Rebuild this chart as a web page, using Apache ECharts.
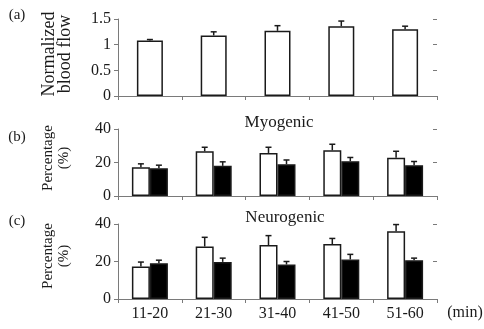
<!DOCTYPE html>
<html>
<head>
<meta charset="utf-8">
<script src="https://cdn.jsdelivr.net/npm/echarts@6/dist/echarts.min.js"></script>
<style>
  html, body { margin: 0; padding: 0; background: #fff; }
  #main { width: 484px; height: 329px; }
</style>
</head>
<body>
<div id="main"></div>
<script>
// time windows
var categories = ['11-20', '21-30', '31-40', '41-50', '51-60'];

// (a) normalized blood flow
var flowMean = [1.08, 1.18, 1.27, 1.36, 1.30];
var flowErr = [0.02, 0.07, 0.10, 0.10, 0.06];

// (b) myogenic, open / filled bars
var myoOpen = [17.2, 26.7, 25.7, 27.3, 22.8];
var myoOpenErr = [2.0, 2.4, 3.4, 3.6, 3.9];
var myoFilled = [16.6, 18.0, 19.0, 20.8, 18.4];
var myoFilledErr = [1.8, 2.4, 2.5, 2.2, 2.2];

// (c) neurogenic, open / filled bars
var neuOpen = [17.3, 28.0, 28.8, 29.3, 36.1];
var neuOpenErr = [2.4, 4.9, 5.0, 3.0, 3.6];
var neuFilled = [19.1, 19.8, 18.4, 21.1, 20.7];
var neuFilledErr = [1.6, 2.0, 1.6, 2.7, 1.1];

var FONT = "'Liberation Serif', 'Times New Roman', 'DejaVu Serif', serif";
var INK = '#1a1a1a';
var AXIS = '#7a7a7a';

var chart = echarts.init(document.getElementById('main'), null, { renderer: 'canvas' });

// upper error bar with a small cap, shifted sideways by offset px
function errSeries(idx, mean, err, offset) {
  return {
    type: 'custom',
    xAxisIndex: idx,
    yAxisIndex: idx,
    z: 5,
    silent: true,
    data: mean.map(function (m, i) { return [i, m, err[i]]; }),
    renderItem: function (params, api) {
      var top = api.coord([api.value(0), api.value(1)]);
      var end = api.coord([api.value(0), api.value(1) + api.value(2)]);
      var x = top[0] + offset;
      var st = { stroke: INK, lineWidth: 1.5 };
      return {
        type: 'group',
        children: [
          { type: 'line', shape: { x1: x, y1: top[1], x2: x, y2: end[1] }, style: st },
          { type: 'line', shape: { x1: x - 3, y1: end[1], x2: x + 3, y2: end[1] }, style: st }
        ]
      };
    }
  };
}

function barSeries(idx, values, fill, width) {
  return {
    type: 'bar',
    xAxisIndex: idx,
    yAxisIndex: idx,
    data: values,
    barWidth: width,
    barGap: '0%',
    itemStyle: { color: fill, borderColor: INK, borderWidth: 1.5 }
  };
}

var grids = [
  { left: 118, width: 319, top: 19, height: 77 },
  { left: 118, width: 319, top: 129, height: 67 },
  { left: 118, width: 319, top: 224, height: 75 }
];
var yRanges = [
  { min: 0, max: 1.5, interval: 0.5 },
  { min: 0, max: 40, interval: 20 },
  { min: 0, max: 40, interval: 20 }
];

var xAxes = [];
var yAxes = [];
// main axes (ticks outward)
grids.forEach(function (g, i) {
  xAxes.push({
    type: 'category', gridIndex: i, data: categories,
    axisLine: { lineStyle: { color: AXIS, width: 1 } },
    axisTick: { show: true, length: 4, lineStyle: { color: AXIS } },
    axisLabel: { show: i === 2, fontFamily: FONT, fontSize: 16, color: INK, margin: 7 }
  });
  yAxes.push({
    type: 'value', gridIndex: i,
    min: yRanges[i].min, max: yRanges[i].max, interval: yRanges[i].interval,
    splitLine: { show: false },
    axisLine: { show: true, lineStyle: { color: AXIS, width: 1 } },
    axisTick: { show: true, length: 4, lineStyle: { color: AXIS } },
    axisLabel: { fontFamily: FONT, fontSize: 16, color: INK, margin: 7 }
  });
});
// twin axes so the ticks cross the axis line
grids.forEach(function (g, i) {
  xAxes.push({
    type: 'category', gridIndex: i, data: categories,
    axisLine: { show: false },
    axisTick: { show: true, inside: true, length: 4, lineStyle: { color: AXIS } },
    axisLabel: { show: false }
  });
  yAxes.push({
    type: 'value', gridIndex: i,
    min: yRanges[i].min, max: yRanges[i].max, interval: yRanges[i].interval,
    splitLine: { show: false },
    axisLine: { show: false },
    axisTick: { show: true, inside: true, length: 4, lineStyle: { color: AXIS } },
    axisLabel: { show: false }
  });
});

function txt(x, y, text, size, rot, lh) {
  return {
    type: 'text', x: x, y: y, rotation: rot || 0,
    style: {
      text: text, fill: INK, fontFamily: FONT, fontSize: size,
      align: 'center', verticalAlign: 'middle', lineHeight: lh || size
    }
  };
}

var option = {
  animation: false,
  backgroundColor: '#fff',
  textStyle: { fontFamily: FONT },
  grid: grids,
  xAxis: xAxes,
  yAxis: yAxes,
  graphic: [
    txt(17, 15, '(a)', 15),
    txt(17, 137, '(b)', 15),
    txt(17, 221, '(c)', 15),
    txt(57, 54, 'Normalized\nblood flow', 18, Math.PI / 2, 16),
    txt(56, 158, 'Percentage\n(%)', 15, Math.PI / 2, 16),
    txt(56, 256, 'Percentage\n(%)', 15, Math.PI / 2, 16),
    txt(279, 123, 'Myogenic', 17),
    txt(285, 218, 'Neurogenic', 17),
    txt(465, 313, '(min)', 16)
  ],
  series: [
    barSeries(0, flowMean, '#fff', 26),
    errSeries(0, flowMean, flowErr, 0),
    barSeries(1, myoOpen, '#fff', 18),
    barSeries(1, myoFilled, '#000', 18),
    errSeries(1, myoOpen, myoOpenErr, -9),
    errSeries(1, myoFilled, myoFilledErr, 9),
    barSeries(2, neuOpen, '#fff', 18),
    barSeries(2, neuFilled, '#000', 18),
    errSeries(2, neuOpen, neuOpenErr, -9),
    errSeries(2, neuFilled, neuFilledErr, 9)
  ]
};

chart.setOption(option);
</script>
</body>
</html>
